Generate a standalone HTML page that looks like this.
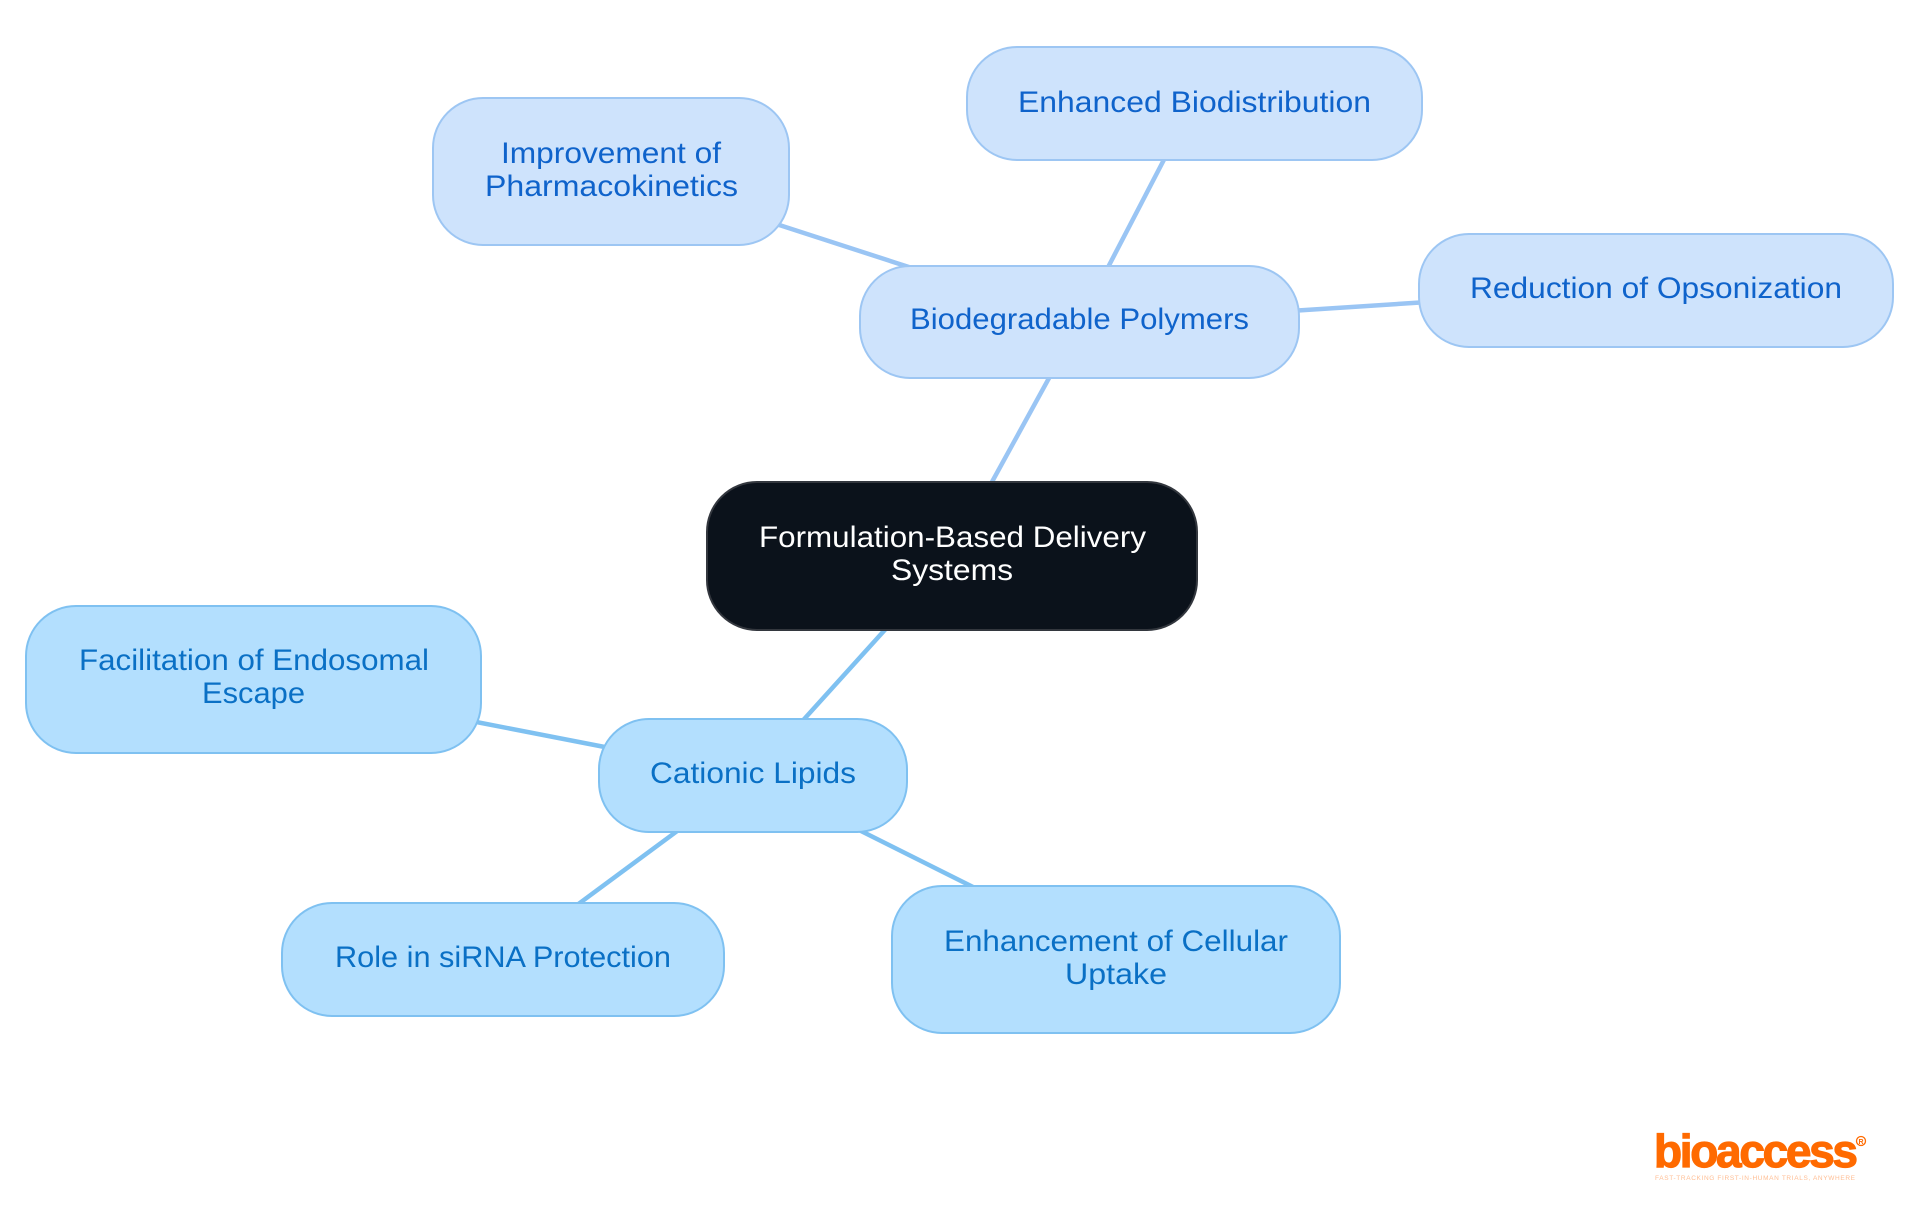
<!DOCTYPE html>
<html><head><meta charset="utf-8"><style>
html,body{margin:0;padding:0;background:#fff;width:1920px;height:1215px;overflow:hidden}
svg{display:block}
text{font-family:"Liberation Sans",sans-serif;font-size:30px}
.a rect{fill:#cee3fc;stroke:#9dc6f3;stroke-width:2}
.a text{fill:#0f63cb}
.b rect{fill:#b3dffe;stroke:#7fc1f1;stroke-width:2}
.b text{fill:#0a70c5}
</style></head><body>
<svg width="1920" height="1215" viewBox="0 0 1920 1215" xmlns="http://www.w3.org/2000/svg">
<rect width="1920" height="1215" fill="#fff"/>
<g stroke="#9ac5f4" stroke-width="4.5" fill="none">
<line x1="1054" y1="369" x2="987" y2="491"/>
<line x1="770" y1="222" x2="915" y2="269"/>
<line x1="1169" y1="150" x2="1104" y2="275"/>
<line x1="1290" y1="311" x2="1428" y2="302"/>
</g>
<g stroke="#7fc1f1" stroke-width="4.5" fill="none">
<line x1="892" y1="622" x2="797" y2="727"/>
<line x1="466" y1="720" x2="615" y2="749"/>
<line x1="684" y1="826" x2="573" y2="908"/>
<line x1="855" y1="828" x2="979" y2="890"/>
</g>
<rect x="707" y="482" width="490" height="148" rx="50" ry="50" fill="#0b121b" stroke="#33373e" stroke-width="2"/>
<text x="759" y="547" fill="#fff" textLength="387" lengthAdjust="spacingAndGlyphs">Formulation-Based Delivery</text>
<text x="891" y="580" fill="#fff" textLength="122" lengthAdjust="spacingAndGlyphs">Systems</text>
<g class="a">
<rect x="860" y="266" width="439" height="112" rx="50"/>
<text x="910" y="329" textLength="339" lengthAdjust="spacingAndGlyphs">Biodegradable Polymers</text>
<rect x="967" y="47" width="455" height="113" rx="50"/>
<text x="1018" y="112" textLength="353" lengthAdjust="spacingAndGlyphs">Enhanced Biodistribution</text>
<rect x="433" y="98" width="356" height="147" rx="50"/>
<text x="501" y="163" textLength="220" lengthAdjust="spacingAndGlyphs">Improvement of</text>
<text x="485" y="196" textLength="253" lengthAdjust="spacingAndGlyphs">Pharmacokinetics</text>
<rect x="1419" y="234" width="474" height="113" rx="50"/>
<text x="1470" y="298" textLength="372" lengthAdjust="spacingAndGlyphs">Reduction of Opsonization</text>
</g>
<g class="b">
<rect x="599" y="719" width="308" height="113" rx="50"/>
<text x="650" y="783" textLength="206" lengthAdjust="spacingAndGlyphs">Cationic Lipids</text>
<rect x="26" y="606" width="455" height="147" rx="50"/>
<text x="79" y="670" textLength="350" lengthAdjust="spacingAndGlyphs">Facilitation of Endosomal</text>
<text x="202" y="703" textLength="103" lengthAdjust="spacingAndGlyphs">Escape</text>
<rect x="282" y="903" width="442" height="113" rx="50"/>
<text x="335" y="967" textLength="336" lengthAdjust="spacingAndGlyphs">Role in siRNA Protection</text>
<rect x="892" y="886" width="448" height="147" rx="50"/>
<text x="944" y="951" textLength="344" lengthAdjust="spacingAndGlyphs">Enhancement of Cellular</text>
<text x="1065" y="984" textLength="102" lengthAdjust="spacingAndGlyphs">Uptake</text>
</g>
<text x="1654" y="1167" fill="#ff6a00" style="font-size:46px;font-weight:700;stroke:#ff6a00;stroke-width:1.2" textLength="204" lengthAdjust="spacing">bioaccess</text>
<text x="1655" y="1180" fill="#ffbe94" style="font-size:6.5px" textLength="200" lengthAdjust="spacing">FAST-TRACKING FIRST-IN-HUMAN TRIALS, ANYWHERE</text>
<circle cx="1861" cy="1141" r="4.5" fill="none" stroke="#ff6a00" stroke-width="1.3"/>
<text x="1858.5" y="1144" fill="#ff6a00" style="font-size:7px;font-weight:700">R</text>
</svg>
</body></html>
